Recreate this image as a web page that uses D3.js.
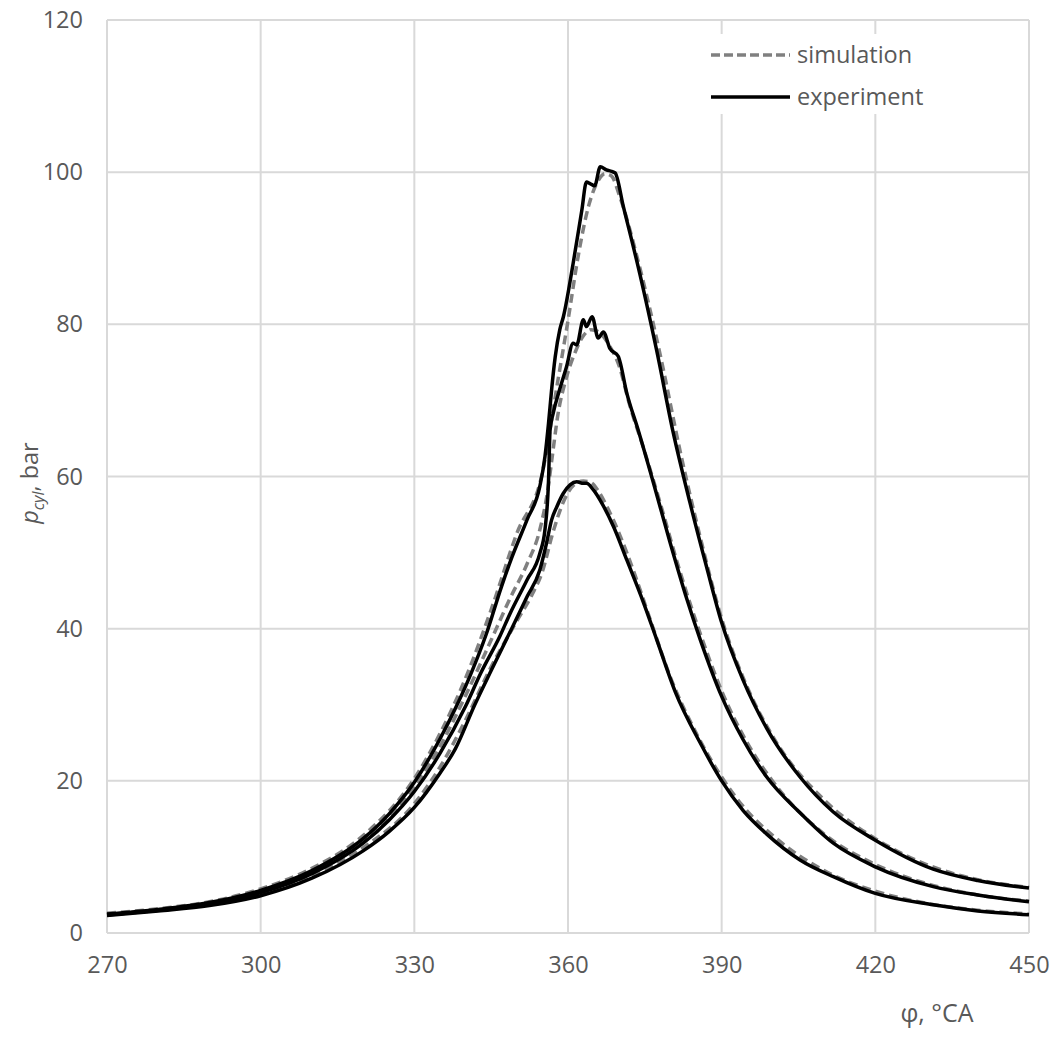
<!DOCTYPE html>
<html>
<head>
<meta charset="utf-8">
<script src="https://cdn.jsdelivr.net/npm/d3@7"></script>
<style>
  html, body { margin: 0; padding: 0; background: #fff; }
  svg { display: block; font-family: 'Open Sans', 'Noto Sans', sans-serif; }
</style>
</head>
<body>
<div id="chart"></div>
<script>
// crank angle ticks and pressure ticks
const xTicks = [270, 300, 330, 360, 390, 420, 450];
const yTicks = [0, 20, 40, 60, 80, 100, 120];

// experiment, high load (peak ~100 bar)
const expAPhi = [270, 280, 290, 300, 310, 320, 325, 330, 335, 338, 341, 344, 347, 349, 352, 354.5, 355.5, 356.2, 356.8, 357.5, 358.4, 359.1, 361, 362.7, 363.6, 364.3, 365.2, 366.3, 367.5, 368.5, 369.2, 370.8, 374, 377.3, 380.5, 383.8, 387.1, 390, 394.2, 398.8, 405.3, 411.8, 420, 431.3, 440, 450];
const expAP   = [2.5, 3.1, 4.0, 5.6, 8.2, 12.4, 15.6, 19.8, 25.5, 29.5, 34.0, 39.2, 45.5, 49.3, 54.3, 58.7, 62.6, 67.0, 71.4, 75.7, 79.3, 81.0, 88.0, 95.0, 98.7, 98.5, 98.2, 100.7, 100.3, 100.1, 99.9, 95.5, 86.7, 76.6, 65.9, 56.6, 48.0, 40.8, 33.2, 26.9, 20.5, 15.9, 12.2, 8.4, 6.9, 5.9];

// simulation, high load
const simAPhi = [270, 280, 290, 300, 310, 320, 330, 335, 340, 345, 350, 355, 358, 360, 362, 364, 366, 367.2, 368.5, 370, 374, 378, 382, 386, 390, 395, 400, 410, 420, 430, 440, 450];
const simAP   = [2.6, 3.2, 4.1, 5.8, 8.5, 12.8, 20.3, 26.2, 33.5, 42.5, 52.5, 60.5, 72.5, 80.5, 89.0, 95.5, 99.0, 99.8, 99.5, 97.0, 87.5, 76.0, 63.0, 51.5, 41.3, 32.3, 25.8, 17.5, 12.4, 9.0, 7.0, 6.0];

// experiment, mid load (peak ~80 bar)
const expBPhi = [270, 280, 290, 300, 310, 320, 325, 330, 335, 340, 343, 346.7, 348.7, 352, 354.5, 355.5, 356.2, 356.5, 357.1, 358.4, 359.7, 361, 361.7, 363, 363.6, 364.7, 365.9, 366.9, 368.2, 369.8, 371.5, 373.7, 376.7, 379.9, 383.2, 385.8, 390, 394.2, 398.8, 405.3, 411.8, 420, 431.3, 440, 450];
const expBP   = [2.4, 3.0, 3.8, 5.3, 7.8, 11.8, 14.8, 18.6, 23.6, 29.8, 34.2, 39.0, 42.0, 46.4, 49.9, 53.0, 59.5, 66.1, 68.3, 71.5, 74.4, 77.5, 77.3, 80.6, 79.7, 81.0, 78.2, 79.0, 76.8, 75.8, 70.9, 66.1, 59.1, 51.4, 43.9, 38.6, 31.1, 25.4, 20.5, 15.8, 11.8, 8.7, 6.1, 5.0, 4.1];

// simulation, mid load
const simBPhi = [270, 280, 290, 300, 310, 320, 330, 335, 340, 345, 348.7, 352, 354.5, 356, 357, 358, 359.7, 361.5, 363, 364.5, 366, 368, 370, 372, 375, 378, 382, 386, 390, 395, 400, 410, 420, 430, 440, 450];
const simBP   = [2.5, 3.1, 4.0, 5.5, 8.1, 12.2, 19.2, 24.5, 31.2, 38.5, 44.0, 48.5, 53.0, 58.0, 63.0, 68.0, 73.0, 76.5, 78.5, 79.3, 79.0, 77.3, 74.5, 69.5, 63.2, 56.5, 47.2, 39.0, 31.8, 25.0, 19.9, 13.0, 9.0, 6.5, 5.0, 4.2];

// experiment, low load (peak ~59 bar)
const expCPhi = [270, 280, 290, 300, 310, 320, 325, 330, 335, 338, 341.8, 345, 349, 352, 354.5, 355.8, 356.8, 357.8, 359.1, 360.4, 361.7, 363, 363.6, 365, 366.6, 368.9, 371.5, 374.7, 377.3, 381, 385.8, 390, 394.2, 398.8, 405.3, 411.8, 420, 431.3, 440, 450];
const expCP   = [2.3, 2.9, 3.6, 4.9, 7.2, 10.8, 13.3, 16.5, 21.0, 24.2, 30.0, 34.5, 40.0, 44.2, 47.7, 51.2, 54.3, 56.0, 57.8, 58.9, 59.3, 59.1, 59.1, 58.2, 56.5, 53.4, 49.0, 43.5, 38.6, 31.6, 25.0, 20.0, 16.1, 13.0, 9.6, 7.4, 5.2, 3.7, 2.9, 2.4];

// simulation, low load
const simCPhi = [270, 280, 290, 300, 310, 320, 330, 335, 340, 345, 350, 353, 355, 357, 359, 361, 363, 364.5, 366, 368, 370, 373, 376, 380, 385, 390, 395, 400, 410, 420, 430, 440, 450];
const simCP   = [2.4, 3.0, 3.8, 5.1, 7.5, 11.2, 17.0, 21.8, 28.0, 35.0, 41.0, 44.5, 47.5, 52.5, 56.5, 58.8, 59.4, 59.2, 58.0, 55.5, 52.5, 47.2, 41.3, 33.6, 26.3, 20.5, 16.0, 12.8, 8.2, 5.5, 3.9, 3.0, 2.5];

const W = 1061, H = 1037;
const margin = { top: 20, right: 32, bottom: 104, left: 107 };
const iw = W - margin.left - margin.right;
const ih = H - margin.top - margin.bottom;

const GRID = '#d9d9d9';
const TXT  = '#595959';
const SIM  = '#808080';

const svg = d3.select('#chart').append('svg')
  .attr('width', W)
  .attr('height', H);

const g = svg.append('g').attr('transform', `translate(${margin.left},${margin.top})`);

const x = d3.scaleLinear().domain([270, 450]).range([0, iw]);
const y = d3.scaleLinear().domain([0, 120]).range([ih, 0]);

// grid
g.append('g').selectAll('line')
  .data(yTicks)
  .join('line')
  .attr('x1', 0).attr('x2', iw)
  .attr('y1', d => y(d)).attr('y2', d => y(d))
  .attr('stroke', GRID).attr('stroke-width', 2);

g.append('g').selectAll('line')
  .data(xTicks)
  .join('line')
  .attr('x1', d => x(d)).attr('x2', d => x(d))
  .attr('y1', 0).attr('y2', ih)
  .attr('stroke', GRID).attr('stroke-width', 2);

// tick labels via d3 axes, domain and tick marks removed
const yAxis = g.append('g')
  .call(d3.axisLeft(y).tickValues(yTicks).tickSize(0).tickPadding(24));
const xAxis = g.append('g')
  .attr('transform', `translate(0,${ih})`)
  .call(d3.axisBottom(x).tickValues(xTicks).tickSize(0).tickPadding(23));

[xAxis, yAxis].forEach(a => {
  a.select('.domain').remove();
  a.selectAll('text')
    .attr('fill', TXT)
    .style('font-size', '23.5px')
    .style('font-family', "'Open Sans', sans-serif");
});

// axis titles
const yTitle = svg.append('text')
  .attr('transform', 'translate(38,483) rotate(-90)')
  .attr('text-anchor', 'middle')
  .attr('fill', TXT)
  .style('font-size', '23.5px');
yTitle.append('tspan').attr('font-style', 'italic').text('p');
yTitle.append('tspan').attr('font-style', 'italic').attr('dy', 6).style('font-size', '16px').text('cyl');
yTitle.append('tspan').attr('dy', -6).text(', bar');

svg.append('text')
  .attr('x', 937).attr('y', 1022)
  .attr('text-anchor', 'middle')
  .attr('fill', TXT)
  .style('font-size', '25px')
  .text('φ, °CA');

// curves: simulation first, experiment on top
const series = [
  { phi: simAPhi, p: simAP, sim: true },
  { phi: simBPhi, p: simBP, sim: true },
  { phi: simCPhi, p: simCP, sim: true },
  { phi: expAPhi, p: expAP, sim: false },
  { phi: expBPhi, p: expBP, sim: false },
  { phi: expCPhi, p: expCP, sim: false }
];

const line = d3.line()
  .x(d => x(d[0]))
  .y(d => y(d[1]))
  .curve(d3.curveMonotoneX);

g.append('g').selectAll('path')
  .data(series)
  .join('path')
  .attr('d', s => line(s.phi.map((v, i) => [v, s.p[i]])))
  .attr('fill', 'none')
  .attr('stroke', s => s.sim ? SIM : '#000')
  .attr('stroke-width', 3.5)
  .attr('stroke-dasharray', s => s.sim ? '9,5' : null)
  .attr('stroke-linejoin', 'round');

// legend
const leg = svg.append('g');
leg.append('rect')
  .attr('x', 703).attr('y', 34)
  .attr('width', 225).attr('height', 80)
  .attr('fill', '#fff');

const legItems = [
  { label: 'simulation', sim: true, yy: 55 },
  { label: 'experiment', sim: false, yy: 97 }
];
legItems.forEach(it => {
  leg.append('line')
    .attr('x1', 711).attr('x2', 790)
    .attr('y1', it.yy).attr('y2', it.yy)
    .attr('stroke', it.sim ? SIM : '#000')
    .attr('stroke-width', 3.5)
    .attr('stroke-dasharray', it.sim ? '9,4' : null);
  leg.append('text')
    .attr('x', 797).attr('y', it.yy)
    .attr('dy', '0.35em')
    .attr('fill', TXT)
    .style('font-size', '23.5px')
    .text(it.label);
});
</script>
</body>
</html>
